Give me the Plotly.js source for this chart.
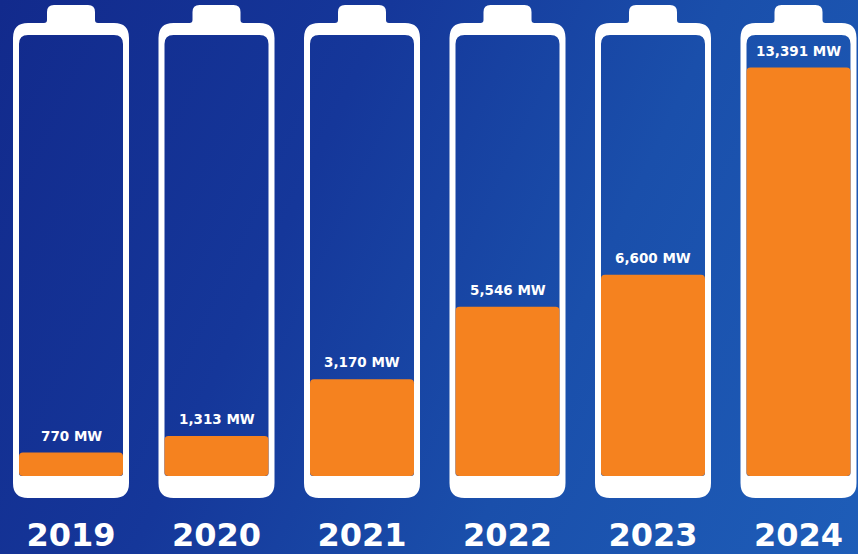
<!DOCTYPE html>
<html>
<head>
<meta charset="utf-8">
<script src="https://cdn.plot.ly/plotly-3.0.1.min.js"></script>
<style>
  html, body { margin: 0; padding: 0; }
  body {
    width: 858px; height: 554px; overflow: hidden;
    background: linear-gradient(115deg, #122a8c 0%, #15379a 35%, #1a4fab 65%, #1e5db8 100%);
  }
  #chart { width: 858px; height: 554px; }
</style>
</head>
<body>
<div id="chart"></div>
<script>
// ---- data ----
const years = ['2019', '2020', '2021', '2022', '2023', '2024'];
const capacityMW = [770, 1313, 3170, 5546, 6600, 13391];
const unit = 'MW';

// ---- layout geometry (styles) ----
const W = 858, H = 554;
const marginB = 41;
const plotH = H - marginB;          // plot area height in px
const pxPerCat = 145.5;             // horizontal spacing of batteries
const firstCenter = 71;             // px of first battery centre
const zeroPx = 476;                 // px where value 0 sits
const pxPerMW = 0.0305;

const xIdx = years.map((_, i) => i);
const x0 = -firstCenter / pxPerCat;
const x1 = x0 + W / pxPerCat;
const y0 = -(plotH - zeroPx) / pxPerMW;
const y1 = zeroPx / pxPerMW;

const X = (i, dx) => (i + dx / pxPerCat).toFixed(5);
const Y = (py) => (1 - py / plotH).toFixed(5);

function batteryPath(i) {
  const R = 15, ct = 23, cb = 498, ho = 58;   // outer body
  const capT = 5, capH = 24, cr = 7, f = 3;   // cap
  const hi = 52, it = 35, ib = 476, r = 9, rb = 3; // inner hole
  const P = (dx, py) => X(i, dx) + ',' + Y(py);
  let d = '';
  d += 'M' + P(-ho, ct + R);
  d += 'Q' + P(-ho, ct) + ' ' + P(-ho + R, ct);
  d += 'L' + P(-capH - f, ct);
  d += 'Q' + P(-capH, ct) + ' ' + P(-capH, ct - f);
  d += 'L' + P(-capH, capT + cr);
  d += 'Q' + P(-capH, capT) + ' ' + P(-capH + cr, capT);
  d += 'L' + P(capH - cr, capT);
  d += 'Q' + P(capH, capT) + ' ' + P(capH, capT + cr);
  d += 'L' + P(capH, ct - f);
  d += 'Q' + P(capH, ct) + ' ' + P(capH + f, ct);
  d += 'L' + P(ho - R, ct);
  d += 'Q' + P(ho, ct) + ' ' + P(ho, ct + R);
  d += 'L' + P(ho, cb - R);
  d += 'Q' + P(ho, cb) + ' ' + P(ho - R, cb);
  d += 'L' + P(-ho + R, cb);
  d += 'Q' + P(-ho, cb) + ' ' + P(-ho, cb - R);
  d += 'Z';
  // inner hole
  d += 'M' + P(-hi, it + r);
  d += 'Q' + P(-hi, it) + ' ' + P(-hi + r, it);
  d += 'L' + P(hi - r, it);
  d += 'Q' + P(hi, it) + ' ' + P(hi, it + r);
  d += 'L' + P(hi, ib - rb);
  d += 'Q' + P(hi, ib) + ' ' + P(hi - rb, ib);
  d += 'L' + P(-hi + rb, ib);
  d += 'Q' + P(-hi, ib) + ' ' + P(-hi, ib - rb);
  d += 'Z';
  return d;
}

const shapes = xIdx.map(i => ({
  type: 'path', xref: 'x', yref: 'paper', layer: 'below',
  path: batteryPath(i), fillcolor: '#ffffff', fillrule: 'evenodd',
  line: { width: 0 }
}));

const labels = capacityMW.map(v => v.toLocaleString('en-US') + ' ' + unit);

const annotations = xIdx.map((i, k) => ({
  x: i, y: capacityMW[k], xref: 'x', yref: 'y',
  text: labels[k], showarrow: false, yshift: 17,
  font: { family: 'DejaVu Sans', size: 13.5, color: '#ffffff', weight: 'bold' }
}));

const trace = {
  type: 'bar', x: xIdx, y: capacityMW, base: 0,
  width: 104 / pxPerCat,
  marker: { color: '#f5821f', cornerradius: 4, line: { width: 0 } },
  hoverinfo: 'skip'
};

const layout = {
  width: W, height: H,
  margin: { l: 0, r: 0, t: 0, b: marginB, pad: 0 },
  paper_bgcolor: 'rgba(0,0,0,0)', plot_bgcolor: 'rgba(0,0,0,0)',
  showlegend: false,
  xaxis: {
    range: [x0, x1], tickmode: 'array', tickvals: xIdx, ticktext: years,
    showgrid: false, zeroline: false, showline: false, ticks: '',
    tickfont: { family: 'DejaVu Sans', size: 32, color: '#ffffff', weight: 'bold' },
    fixedrange: true
  },
  yaxis: {
    range: [y0, y1], visible: false, showgrid: false, zeroline: false, fixedrange: true
  },
  shapes: shapes,
  annotations: annotations
};

Plotly.newPlot('chart', [trace], layout, { displayModeBar: false, staticPlot: true });
</script>
</body>
</html>
